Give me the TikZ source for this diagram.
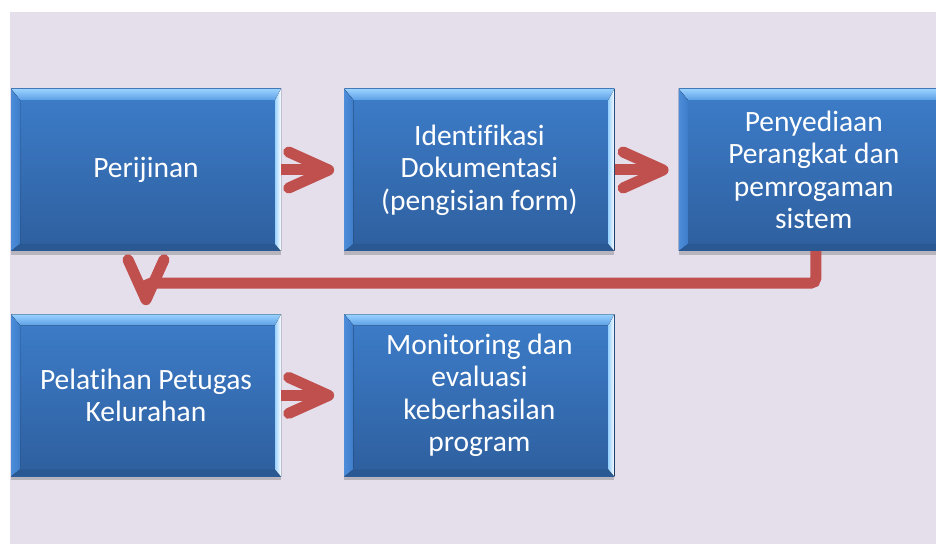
\documentclass[tikz,border=0pt]{standalone}
\usepackage{fontspec}
\newfontfamily\stagefont{Carlito}[Ligatures=CommonOff]
\usetikzlibrary{positioning,arrows.meta,shadows}
\definecolor{bgcol}{HTML}{E5DFEC}
\definecolor{boxtop}{HTML}{3D7DCA}
\definecolor{boxbot}{HTML}{2E5F9E}
\definecolor{bevhi}{HTML}{9AD2FF}
\definecolor{bevtop}{HTML}{5C9FE6}
\definecolor{bevleft}{HTML}{4C8CD8}
\definecolor{bevbot}{HTML}{2A5892}
\definecolor{arrowred}{HTML}{C0504D}
\tikzset{
  stage/.style={minimum width=270pt, minimum height=162pt, inner sep=0pt,
    align=center, text=white,
    font=\stagefont\fontsize{29.5}{32.5}\selectfont,
    top color=boxtop, bottom color=boxbot,
    drop shadow={shadow xshift=0pt, shadow yshift=-4pt, opacity=0.35, fill=black!60},
    path picture={
      \coordinate (nw) at (path picture bounding box.north west);
      \coordinate (ne) at (path picture bounding box.north east);
      \coordinate (sw) at (path picture bounding box.south west);
      \coordinate (se) at (path picture bounding box.south east);
      % bevel edges
      \fill[top color=bevhi, bottom color=bevtop] (nw) -- (ne) -- ([shift={(-6pt,-11pt)}]ne) -- ([shift={(9pt,-11pt)}]nw) -- cycle;
      \fill[left color=bevleft, right color=boxtop] (nw) -- ([shift={(9pt,-11pt)}]nw) -- ([shift={(9pt,7pt)}]sw) -- (sw) -- cycle;
      \fill[bevbot] (sw) -- ([shift={(9pt,7pt)}]sw) -- ([shift={(-6pt,7pt)}]se) -- (se) -- cycle;
      \fill[left color=bevhi, right color=white] (ne) -- (se) -- ([shift={(-6pt,7pt)}]se) -- ([shift={(-6pt,-11pt)}]ne) -- cycle;
    }},
  flow/.style={draw=arrowred, line width=11pt,
    -{Straight Barb[length=40pt, width=36pt, round]}}
}
\begin{document}
\begin{tikzpicture}[x=1pt, y=1pt, node distance=63pt]
\useasboundingbox (0,0) rectangle (936,544);
\clip (0,0) rectangle (936,544);
\fill[bgcol] (10,0) rectangle (936,532);

\node[stage] (perijinan) at (146,374) {Perijinan};
\node[stage, right=of perijinan] (identifikasi) {Identifikasi\\Dokumentasi\\(pengisian form)};
\node[stage, right=64pt of identifikasi] (penyediaan) {Penyediaan\\Perangkat dan\\pemrogaman\\sistem};
\node[stage, below=of perijinan] (pelatihan) {Pelatihan Petugas\\Kelurahan};
\node[stage, right=of pelatihan] (monitoring) {Monitoring dan\\evaluasi\\keberhasilan\\program};

\draw[flow] (perijinan.east) -- ([xshift=-10pt]identifikasi.west);
\draw[flow] (identifikasi.east) -- ([xshift=-10pt]penyediaan.west);
\draw[flow] (pelatihan.east) -- ([xshift=-10pt]monitoring.west);
\draw[flow, rounded corners=5pt] ([xshift=2pt]penyediaan.south) -- ++(0,-32) -| ([yshift=9pt]pelatihan.north);
\end{tikzpicture}
\end{document}
